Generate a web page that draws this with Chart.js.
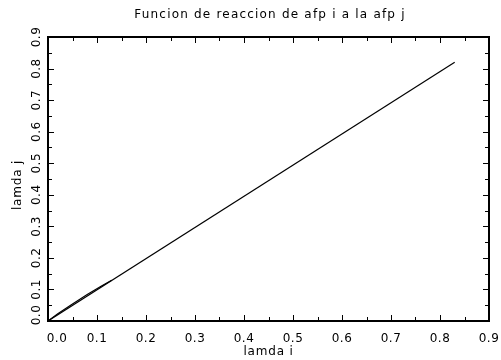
<!DOCTYPE html>
<html>
<head>
<meta charset="utf-8">
<script src="https://cdn.jsdelivr.net/npm/chart.js@4/dist/chart.umd.min.js"></script>
<style>
  body { margin: 0; background: #fff; }
  #wrap { width: 501px; height: 360px; }
</style>
</head>
<body>
<div id="wrap"><canvas id="reaccionChart" width="501" height="360"></canvas></div>
<script>
// Data
const lamdaI = [0, 0.83];
const lamdaJ = [0, 0.82];
const lamdaIBranch = [0, 0.02, 0.05, 0.08, 0.11, 0.13];
const lamdaJBranch = [0, 0.023, 0.054, 0.084, 0.112, 0.129];

const majorTicks = [0, 0.1, 0.2, 0.3, 0.4, 0.5, 0.6, 0.7, 0.8, 0.9];
const minorTicks = [0.05, 0.15, 0.25, 0.35, 0.45, 0.55, 0.65, 0.75, 0.85];
const tickLabels = ['0.0', '0.1', '0.2', '0.3', '0.4', '0.5', '0.6', '0.7', '0.8', '0.9'];

const chartTitle = 'Funcion de reaccion de afp i a la afp j';
const xTitle = 'lamda i';
const yTitle = 'lamda j';

const FONT = '"DejaVu Sans", sans-serif';

function toPoints(xs, ys) {
    return xs.map((x, i) => ({ x: x, y: ys[i] }));
}

// Frame, inward ticks, labels and titles drawn from the chart's scales
const framePlugin = {
    id: 'frame',
    afterDraw(chart) {
        const ctx = chart.ctx;
        const xs = chart.scales.x;
        const ys = chart.scales.y;
        const a = chart.chartArea;
        ctx.save();
        ctx.strokeStyle = '#000';
        ctx.fillStyle = '#000';

        // ticks
        ctx.lineWidth = 1;
        const drawTicks = (vals, len) => {
            vals.forEach(v => {
                const px = Math.round(xs.getPixelForValue(v)) + 0.5;
                const py = Math.round(ys.getPixelForValue(v)) + 0.5;
                ctx.beginPath();
                ctx.moveTo(px, a.bottom); ctx.lineTo(px, a.bottom - len);
                ctx.moveTo(px, a.top); ctx.lineTo(px, a.top + len);
                ctx.moveTo(a.left, py); ctx.lineTo(a.left + len, py);
                ctx.moveTo(a.right, py); ctx.lineTo(a.right - len, py);
                ctx.stroke();
            });
        };
        drawTicks(majorTicks, 6);
        drawTicks(minorTicks, 4);

        // frame
        ctx.lineWidth = 2;
        ctx.strokeRect(a.left, a.top, a.right - a.left, a.bottom - a.top);

        // x tick labels
        ctx.font = '12px ' + FONT;
        ctx.letterSpacing = '0.5px';
        ctx.textBaseline = 'middle';
        majorTicks.forEach((v, i) => {
            let px = xs.getPixelForValue(v);
            if (i === 0) px += 9;
            ctx.textAlign = 'center';
            ctx.fillText(tickLabels[i], px, a.bottom + 18);
        });

        // y tick labels, rotated
        majorTicks.forEach((v, i) => {
            let py = ys.getPixelForValue(v);
            if (i === 0) py -= 6;
            ctx.save();
            ctx.translate(a.left - 11, py);
            ctx.rotate(-Math.PI / 2);
            ctx.textAlign = 'center';
            ctx.fillText(tickLabels[i], 0, 0);
            ctx.restore();
        });

        // axis titles
        ctx.font = '12px ' + FONT;
        ctx.letterSpacing = '0.8px';
        ctx.textAlign = 'center';
        ctx.fillText(xTitle, (a.left + a.right) / 2, 352);
        ctx.save();
        ctx.translate(18, (a.top + a.bottom) / 2 + 6);
        ctx.rotate(-Math.PI / 2);
        ctx.fillText(yTitle, 0, 0);
        ctx.restore();

        // chart title
        ctx.font = '12px ' + FONT;
        ctx.letterSpacing = '1.2px';
        ctx.fillText(chartTitle, 270, 15);
        ctx.restore();
    }
};

document.addEventListener('DOMContentLoaded', () => {
    const ctx = document.getElementById('reaccionChart');
    new Chart(ctx, {
        type: 'scatter',
        data: {
            datasets: [{
                label: 'reaccion',
                data: toPoints(lamdaI, lamdaJ),
                showLine: true,
                borderColor: '#000',
                borderWidth: 1.2,
                pointRadius: 0,
                tension: 0
            }, {
                label: 'tramo inicial',
                data: toPoints(lamdaIBranch, lamdaJBranch),
                showLine: true,
                borderColor: '#000',
                borderWidth: 1.2,
                pointRadius: 0,
                tension: 0
            }]
        },
        plugins: [framePlugin],
        options: {
            responsive: false,
            animation: false,
            layout: {
                padding: { left: 48, right: 12, top: 37, bottom: 39 }
            },
            plugins: {
                legend: { display: false },
                title: { display: false },
                tooltip: { enabled: false }
            },
            scales: {
                x: { type: 'linear', min: 0, max: 0.9, display: false },
                y: { type: 'linear', min: 0, max: 0.9, display: false }
            }
        }
    });
});
</script>
</body>
</html>
